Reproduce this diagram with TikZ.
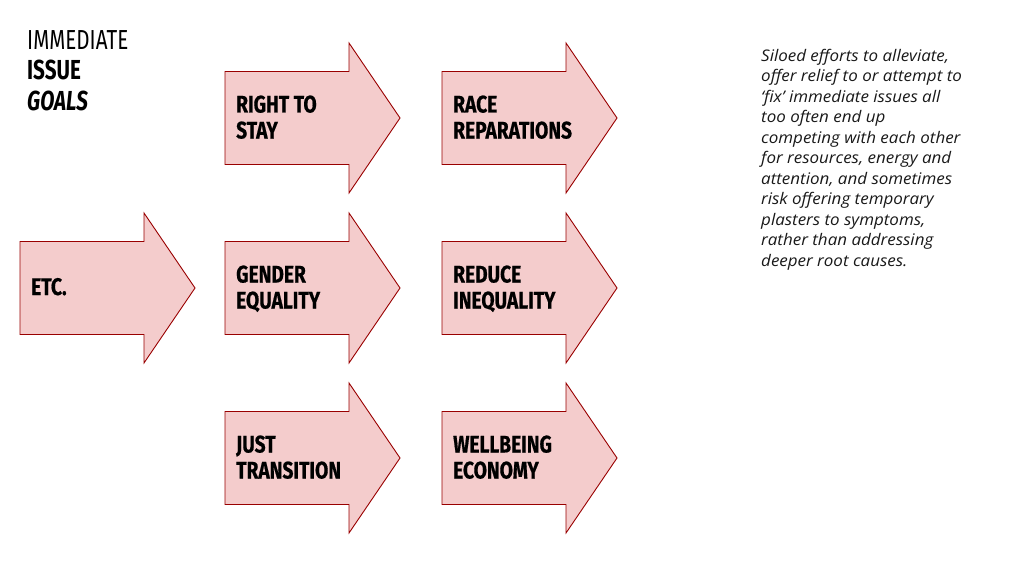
\documentclass[tikz,border=0pt]{standalone}
\usepackage{fontspec}
\setmainfont{Fira Sans}
\newfontfamily\condfont[FakeStretch=0.80,FakeBold=0.6]{Fira Sans}
\newfontfamily\titlefont[FakeStretch=0.75]{Fira Sans}
\newfontfamily\notefont[FakeStretch=1.06]{Open Sans}
\definecolor{arrowfill}{HTML}{F4CCCC}
\definecolor{arrowline}{HTML}{990000}
\tikzset{
  arrowshape/.style={fill=arrowfill, draw=arrowline, line width=0.9pt, line join=miter},
  arrowlabel/.style={anchor=base west, inner sep=0pt, align=left,
    font=\condfont\bfseries\fontsize{24}{26}\selectfont, text=black},
}
\newcommand\bigarrow[3]{%
  \draw[arrowshape] (#1,#2-46.5) -- ++(124,0) -- ++(0,-28.5) -- (#1+175,#2)
    -- (#1+124,#2+75) -- ++(0,-28.5) -- (#1,#2+46.5) -- cycle;
  \coordinate (#3) at (#1,#2);
}
\begin{document}
\begin{tikzpicture}[x=1pt,y=-1pt]
\useasboundingbox[fill=white] (0,0) rectangle (1024,575);
% title
\node[anchor=base west, inner sep=0pt, font=\titlefont\fontsize{27.5}{31}\selectfont] (t1) at (27,49.3) {IMMEDIATE};
\node[anchor=base west, inner sep=0pt, font=\titlefont\bfseries\fontsize{27.5}{31}\selectfont] (t2) at (27,80) {ISSUE};
\node[anchor=base west, inner sep=0pt, font=\titlefont\bfseries\itshape\fontsize{27.5}{31}\selectfont] (t3) at (27,110.7) {GOALS};
% arrows
\bigarrow{225}{118}{a1}
\bigarrow{442}{118}{a2}
\bigarrow{20}{288}{a0}
\bigarrow{225}{288}{a3}
\bigarrow{442}{288}{a4}
\bigarrow{225}{458}{a5}
\bigarrow{442}{458}{a6}
\node[arrowlabel] (l1) at ([shift={(11,20.5)}]a1) {RIGHT TO\\STAY};
\node[arrowlabel] (l2) at ([shift={(11,20.5)}]a2) {RACE\\REPARATIONS};
\node[arrowlabel] (l0) at ([shift={(11,7)}]a0) {ETC.};
\node[arrowlabel] (l3) at ([shift={(11,20.5)}]a3) {GENDER\\EQUALITY};
\node[arrowlabel] (l4) at ([shift={(11,20.5)}]a4) {REDUCE\\INEQUALITY};
\node[arrowlabel] (l5) at ([shift={(11,20.5)}]a5) {JUST\\TRANSITION};
\node[arrowlabel] (l6) at ([shift={(11,20.5)}]a6) {WELLBEING\\ECONOMY};
% note
\node[anchor=base west, inner sep=0pt, align=left, text=black!90,
  font=\notefont\itshape\fontsize{16}{20.5}\selectfont] (note) at (761,266.3)
  {Siloed efforts to alleviate,\\offer relief to or attempt to\\‘fix’ immediate issues all\\too often end up\\competing with each other\\for resources, energy and\\attention, and sometimes\\risk offering temporary\\plasters to symptoms,\\rather than addressing\\deeper root causes.};
\end{tikzpicture}
\end{document}
